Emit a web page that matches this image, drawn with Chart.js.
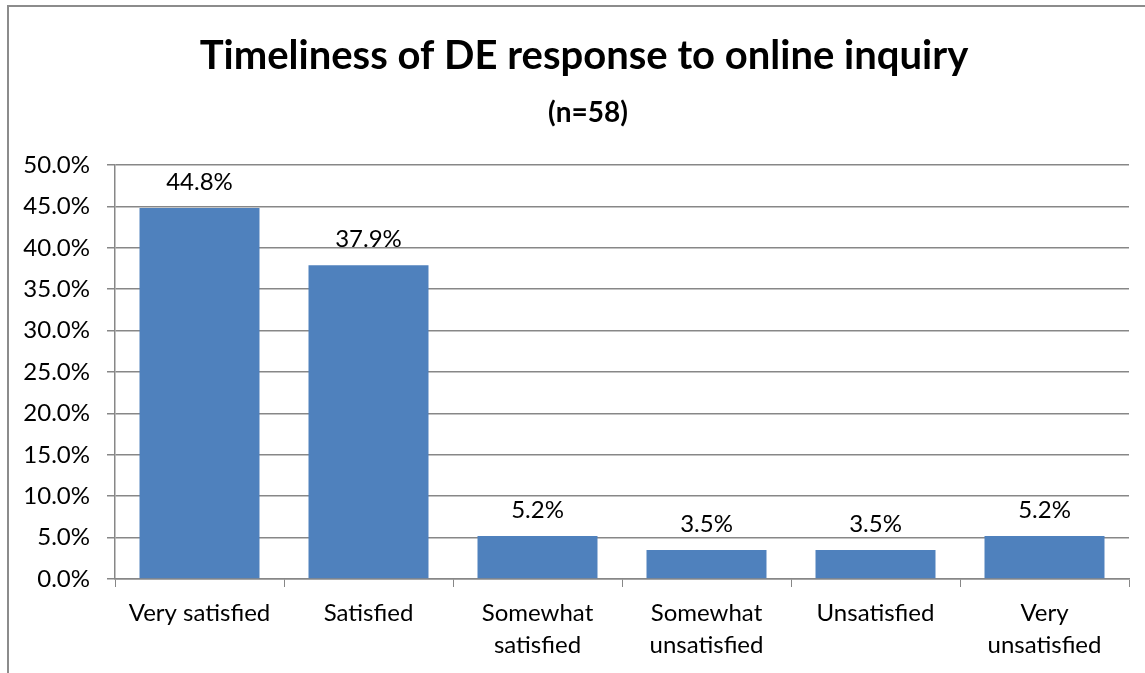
<!DOCTYPE html>
<html>
<head>
<meta charset="utf-8">
<script src="https://cdn.jsdelivr.net/npm/chart.js@4"></script>
<style>
  body { margin: 0; background: #fff; overflow: hidden; }
  #frame { position: absolute; left: 7px; top: 5px; width: 1160px; height: 700px; border: 2px solid #8c8c8c; }
  #wrap { position: absolute; left: 0; top: 0; width: 1145px; height: 673px; }
</style>
</head>
<body>
<div id="frame"></div>
<div id="wrap"><canvas id="myChart"></canvas></div>
<script>
var ctx = document.getElementById('myChart').getContext('2d');
// survey answers, percent of respondents
const names = [['Very satisfied'], ['Satisfied'], ['Somewhat', 'satisfied'], ['Somewhat', 'unsatisfied'], ['Unsatisfied'], ['Very', 'unsatisfied']];
const value = [44.8, 37.9, 5.2, 3.5, 3.5, 5.2];
const yTicks = [0, 5, 10, 15, 20, 25, 30, 35, 40, 45, 50];
const titleText = 'Timeliness of DE response to online inquiry';
const subText = '(n=58)';

const fontName = 'Lato, "Open Sans", sans-serif';
const gridGray = '#878787';

// value labels above each bar + the heading (centred on the frame, not the plot)
const barLabels = {
    id: 'barLabels',
    afterDatasetsDraw(chart) {
        const c = chart.ctx;
        const meta = chart.getDatasetMeta(0);
        c.save();
        c.font = '24px ' + fontName;
        c.fillStyle = '#000';
        c.textAlign = 'center';
        c.textBaseline = 'middle';
        meta.data.forEach(function (bar, i) {
            c.fillText(value[i].toFixed(1) + '%', bar.x, bar.y - 26);
        });
        c.font = 'bold 40px ' + fontName;
        c.fillText(titleText, 584, 56);
        c.font = 'bold 28px ' + fontName;
        c.fillText(subText, 588, 113);
        c.restore();
    }
};

var myChart = new Chart(ctx, {
    type: 'bar',
    data: {
        labels: names,
        datasets: [{
            label: 'Percent',
            data: value,
            backgroundColor: '#4F81BD',
            borderWidth: 0,
            categoryPercentage: 1,
            barPercentage: 0.71
        }]
    },
    options: {
        responsive: true,
        maintainAspectRatio: false,
        animation: false,
        layout: { padding: { left: 0, right: 16, top: 165, bottom: 0 } },
        plugins: {
            legend: { display: false },
            tooltip: { enabled: false },
            title: { display: false }
        },
        scales: {
            x: {
                afterFit: function (s) { s.height = 94; },
                grid: { display: true, drawOnChartArea: false, color: gridGray, tickLength: 8, offset: true },
                border: { color: gridGray, width: 1.5 },
                ticks: { color: '#000', font: { family: fontName, size: 24, lineHeight: 1.35 }, padding: 10, maxRotation: 0 }
            },
            y: {
                min: 0,
                max: 50,
                afterFit: function (s) { s.width = 115; },
                afterBuildTicks: function (s) { s.ticks = yTicks.map(function (v) { return { value: v }; }); },
                grid: { color: gridGray, lineWidth: 1.5, tickLength: 8 },
                border: { color: gridGray, width: 1.5 },
                ticks: {
                    color: '#000',
                    font: { family: fontName, size: 24 },
                    padding: 17,
                    callback: function (v) { return v.toFixed(1) + '%'; }
                }
            }
        }
    },
    plugins: [barLabels]
});
</script>
</body>
</html>
